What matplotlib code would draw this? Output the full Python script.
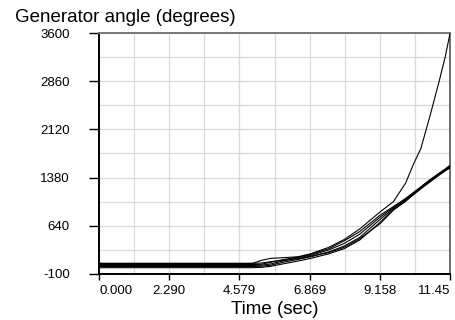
import matplotlib
matplotlib.use("Agg")
import matplotlib.pyplot as plt
from matplotlib.ticker import FixedLocator

plt.rcParams['font.family'] = ['Liberation Sans', 'DejaVu Sans']

# time knots (sec)
time = [0.0, 5.0, 5.3, 5.6, 6.0, 6.5, 6.9, 7.5, 8.0, 8.5, 9.16, 9.6, 10.0,
        10.25, 10.5, 10.8, 11.1, 11.3, 11.45]

# generator angles (degrees), one list per machine
gen_a = [62, 62, 110, 140, 150, 165, 210, 310, 430, 590, 850, 1010, 1295,
         1580, 1830, 2335, 2870, 3250, 3600]
gen_b = [45, 45, 50, 80, 120, 160, 200, 290, 410, 550, 800, 935, 1060,
         1150, 1240, 1350, 1450, 1515, 1570]
gen_c = [30, 30, 35, 55, 100, 150, 185, 270, 370, 510, 770, 920, 1050,
         1140, 1232, 1340, 1442, 1508, 1560]
gen_d = [15, 15, 20, 35, 80, 125, 165, 240, 330, 460, 735, 905, 1040,
         1132, 1225, 1332, 1435, 1500, 1550]
gen_e = [-3, -3, 2, 18, 55, 100, 140, 210, 290, 420, 690, 890, 1025,
         1122, 1215, 1322, 1428, 1492, 1540]
gen_f = [64, 64, 68, 90, 110, 135, 170, 230, 310, 440, 670, 880, 1015,
         1115, 1208, 1315, 1420, 1485, 1530]

x_ticks = [0.0, 2.290, 4.579, 6.869, 9.158, 11.448]
x_labels = ['0.000', '2.290', '4.579', '6.869', '9.158', '11.45']
y_ticks = [-100, 640, 1380, 2120, 2860, 3600]

fig = plt.figure(figsize=(4.55, 3.2), dpi=100)
ax = fig.add_axes([99 / 455, 46 / 320, 351 / 455, 241 / 320])

for g in [gen_a, gen_b, gen_c, gen_d, gen_e, gen_f]:
    ax.plot(time, g, color='black', linewidth=0.8, zorder=3)

ax.set_xlim(x_ticks[0], x_ticks[-1])
ax.set_ylim(y_ticks[0], y_ticks[-1])

ax.set_xticks(x_ticks)
ax.set_xticklabels(x_labels, fontsize=9.5)
ax.set_yticks(y_ticks)
ax.set_yticklabels([str(v) for v in y_ticks], fontsize=9.5)
labels = ax.get_xticklabels()
labels[0].set_horizontalalignment('left')
labels[-1].set_horizontalalignment('right')

# minor grid halfway between the major ticks
ax.xaxis.set_minor_locator(FixedLocator(
    [(a + b) / 2 for a, b in zip(x_ticks[:-1], x_ticks[1:])]))
ax.yaxis.set_minor_locator(FixedLocator(
    [(a + b) / 2 for a, b in zip(y_ticks[:-1], y_ticks[1:])]))
ax.grid(which='both', color='#c4c4c4', linewidth=0.9, linestyle=(0, (1, 0.6)))
ax.set_axisbelow(True)

ax.tick_params(axis='y', which='major', length=7, width=1, pad=14)
ax.tick_params(axis='x', which='major', length=4, width=1, pad=4)
ax.tick_params(which='minor', length=0)

ax.spines['left'].set_linewidth(1.4)
ax.spines['bottom'].set_linewidth(1.4)
ax.spines['top'].set_color('#777777')
ax.spines['top'].set_linewidth(1.4)
ax.spines['right'].set_color('#555555')
ax.spines['right'].set_linewidth(1.2)

fig.text(15 / 455, 1 - 22 / 320, 'Generator angle (degrees)', fontsize=13.5,
         ha='left', va='baseline')
ax.set_xlabel('Time (sec)', fontsize=13.5, labelpad=3)

fig.savefig('out.png', dpi=100)
